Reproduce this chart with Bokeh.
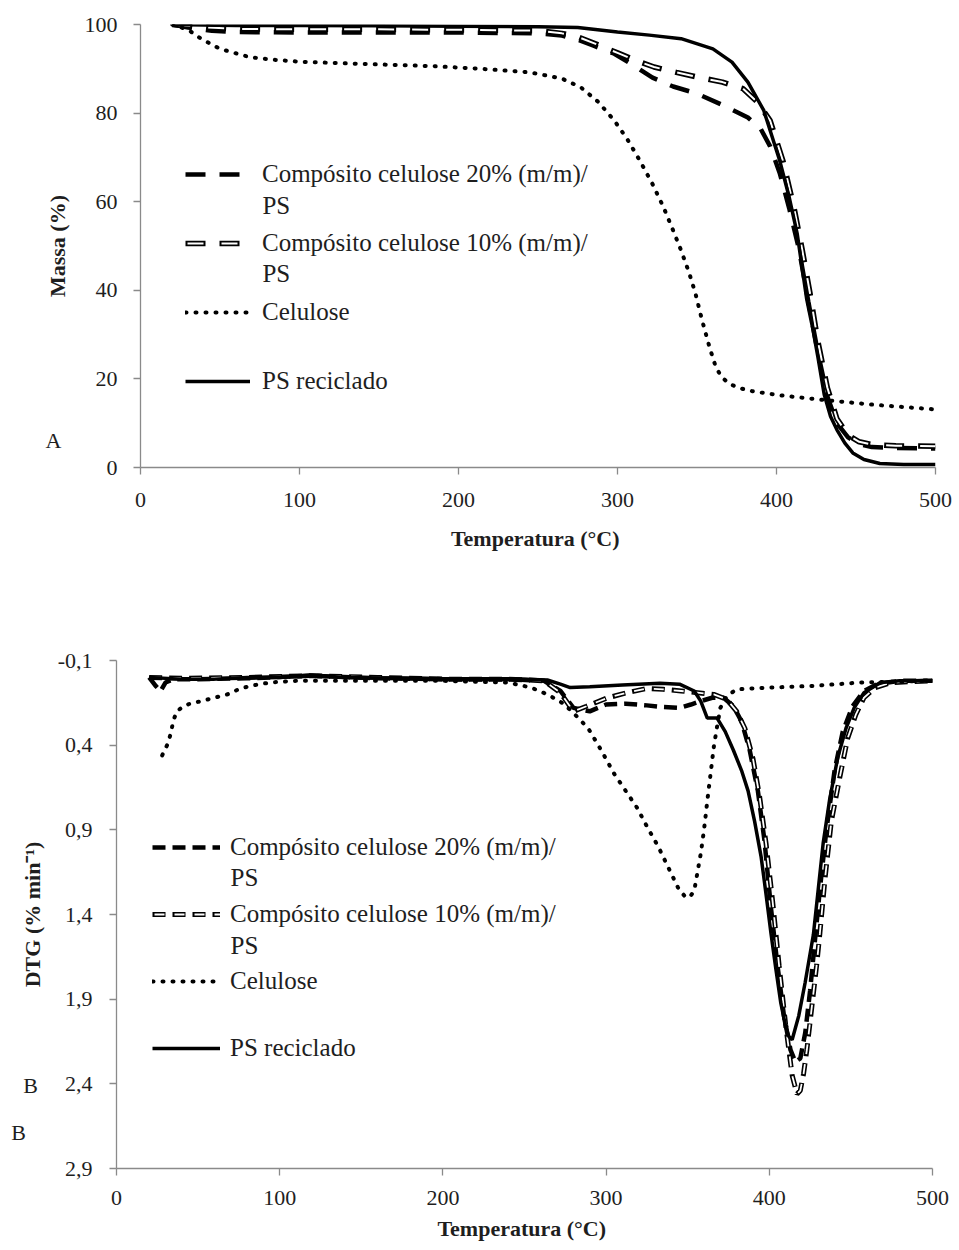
from bokeh.plotting import figure
from bokeh.models import Range1d, FixedTicker, Legend, LegendItem, Label
from bokeh.embed import file_html
from bokeh.resources import INLINE

# ---------------- data ----------------
# TGA (panel A): mass (%) vs temperature (°C)
tga_c20_T = [20, 30, 45, 60, 100, 150, 200, 250, 265, 275, 285, 298, 310, 322, 335, 350, 365, 382, 390, 396, 402, 408, 414, 420, 426, 432, 438, 445, 452, 460, 475, 500]
tga_c20_m = [100, 99.3, 98.6, 98.3, 98.2, 98.2, 98.2, 98.0, 97.5, 96.6, 95.2, 93.4, 90.8, 88.0, 86.0, 84.4, 82.0, 79.0, 76.5, 72.5, 66.5, 58.5, 49.5, 37.5, 26.0, 16.0, 10.0, 6.8, 5.3, 4.6, 4.4, 4.3]

tga_c10_T = [20, 40, 60, 100, 150, 200, 250, 265, 275, 285, 300, 312, 323, 337, 352, 366, 379, 388, 396, 404, 411, 416, 421, 426, 432, 438, 445, 452, 460, 475, 500]
tga_c10_m = [100, 99.4, 99.0, 98.9, 98.9, 98.8, 98.6, 98.0, 97.2, 95.8, 93.6, 91.8, 90.4, 89.2, 88.0, 87.0, 85.5, 82.5, 78.3, 69.3, 58.7, 49.5, 39.5, 28.5, 18.0, 11.0, 7.3, 5.8, 5.2, 4.9, 4.8]

tga_cel_T = [20, 30, 38, 50, 69, 85, 100, 140, 184, 214, 245, 265, 277, 288, 298, 306, 314, 322, 329, 335, 340, 345, 349, 353, 358, 362, 366, 371, 376, 385, 402, 428, 460, 500]
tga_cel_m = [100, 98.8, 96.8, 94.5, 92.6, 92.0, 91.6, 91.1, 90.6, 90.0, 89.2, 87.8, 85.8, 82.5, 78.3, 74.2, 69.3, 64.0, 58.7, 53.5, 49.0, 44.0, 39.3, 33.5, 27.0, 22.5, 20.2, 18.8, 18.0, 17.2, 16.3, 15.3, 14.2, 13.1]

tga_ps_T = [20, 60, 100, 150, 200, 250, 275, 300, 320, 340, 360, 372, 382, 392, 402, 408, 413, 419, 423, 426, 430, 434, 438, 443, 448, 455, 465, 480, 500]
tga_ps_m = [100, 99.8, 99.8, 99.7, 99.6, 99.5, 99.3, 98.3, 97.6, 96.8, 94.5, 91.5, 87.0, 80.6, 69.3, 61.0, 52.8, 38.0, 31.0, 25.0, 16.5, 11.5, 8.5, 5.5, 3.3, 1.8, 0.9, 0.7, 0.7]

# DTG (panel B): % min^-1 vs temperature (°C)
dtg_c20_T = [20, 24, 27, 30, 35, 50, 80, 120, 160, 200, 240, 262, 272, 280, 290, 300, 312, 325, 335, 345, 352, 358, 365, 372, 378, 383, 388, 393, 397, 401, 405, 409, 413, 416, 419, 422, 425, 428, 431, 435, 440, 445, 451, 458, 466, 480, 500]
dtg_c20_v = [0.0, 0.05, 0.08, 0.03, 0.01, 0.01, 0.005, -0.01, 0.005, 0.01, 0.01, 0.02, 0.08, 0.18, 0.2, 0.16, 0.155, 0.165, 0.175, 0.18, 0.16, 0.14, 0.12, 0.12, 0.17, 0.26, 0.43, 0.67, 0.96, 1.36, 1.7, 2.0, 2.2, 2.27, 2.25, 2.1, 1.85, 1.55, 1.25, 0.9, 0.55, 0.32, 0.17, 0.08, 0.04, 0.02, 0.02]

dtg_c10_T = [20, 40, 80, 120, 160, 200, 240, 262, 272, 280, 288, 301, 313, 325, 335, 346, 356, 366, 374, 380, 385, 390, 394, 398, 402, 406, 410, 414, 417, 419, 421, 423, 426, 429, 431, 434, 438, 443.6, 448, 453, 458, 465, 475, 500]
dtg_c10_v = [0.0, 0.005, 0.0, -0.01, 0.0, 0.01, 0.01, 0.02, 0.09, 0.2, 0.17, 0.12, 0.09, 0.065, 0.07, 0.08, 0.09, 0.1, 0.13, 0.2, 0.3, 0.48, 0.7, 0.98, 1.32, 1.7, 2.05, 2.35, 2.46, 2.44, 2.34, 2.2, 1.95, 1.7, 1.51, 1.2, 0.85, 0.57, 0.36, 0.22, 0.12, 0.06, 0.03, 0.02]

dtg_cel_T = [28, 31, 33, 35, 37, 41, 45, 52, 60, 68, 76, 85, 94, 110, 150, 200, 240, 254, 264, 274, 281, 289, 297, 305, 312, 319, 325, 332, 338, 344, 348, 351, 354, 358, 360, 362, 364, 366, 368, 370, 374, 380, 400, 427, 456, 480, 500]
dtg_cel_v = [0.46, 0.4, 0.34, 0.25, 0.2, 0.17, 0.155, 0.14, 0.12, 0.1, 0.065, 0.045, 0.03, 0.02, 0.02, 0.02, 0.03, 0.06, 0.1, 0.155, 0.22, 0.3, 0.43, 0.57, 0.67, 0.77, 0.88, 1.0, 1.12, 1.24, 1.29, 1.3, 1.26, 1.04, 0.9, 0.73, 0.57, 0.41, 0.29, 0.18, 0.11, 0.07, 0.06, 0.05, 0.03, 0.025, 0.02]

dtg_ps_T = [20, 40, 60, 80, 100, 119, 140, 180, 220, 250, 264, 272, 278, 290, 310, 333, 345, 354, 358, 362, 368, 373, 378, 383, 387, 391, 395, 398, 401, 404, 407, 410, 412, 414, 418, 422, 427, 430, 433, 437, 442, 447, 452, 458, 468, 480, 500]
dtg_ps_v = [0.0, 0.01, 0.01, 0.0, 0.0, -0.015, 0.0, 0.005, 0.01, 0.01, 0.015, 0.04, 0.06, 0.055, 0.045, 0.035, 0.04, 0.08, 0.14, 0.24, 0.24, 0.32, 0.43, 0.55, 0.67, 0.85, 1.06, 1.28, 1.51, 1.72, 1.92, 2.06, 2.12, 2.14, 2.0, 1.8, 1.52, 1.25, 0.98, 0.72, 0.47, 0.3, 0.18, 0.09, 0.03, 0.02, 0.02]

x_ticks = [0, 100, 200, 300, 400, 500]
tga_ticks = [0, 20, 40, 60, 80, 100]
dtg_ticks = [-0.1, 0.4, 0.9, 1.4, 1.9, 2.4, 2.9]
dtg_tick_labels = ["-0,1", "0,4", "0,9", "1,4", "1,9", "2,4", "2,9"]

legend_labels = ["Compósito celulose 20% (m/m)/", "Compósito celulose 10% (m/m)/", "Celulose", "PS reciclado"]

# ---------------- styling helpers ----------------
SERIF = "Liberation Serif"
AXIS_GRAY = "#8a8a8a"
TXT = "#1e1e1e"
LEG_SIZE = "25px"


def style(p, yticks, ylabel, yoverrides=None, ylab_standoff=16, xlab_standoff=18,
          xtitle_standoff=16, ytitle_standoff=12):
    p.xgrid.visible = False
    p.ygrid.visible = False
    p.outline_line_color = None
    p.xaxis.ticker = FixedTicker(ticks=x_ticks)
    p.yaxis.ticker = FixedTicker(ticks=yticks)
    if yoverrides:
        p.yaxis.major_label_overrides = yoverrides
    for ax in (p.xaxis[0], p.yaxis[0]):
        ax.axis_line_color = AXIS_GRAY
        ax.axis_line_width = 1.3
        ax.major_tick_line_color = AXIS_GRAY
        ax.major_tick_line_width = 1.3
        ax.major_tick_out = 7
        ax.major_tick_in = 0
        ax.minor_tick_line_color = None
        ax.major_label_text_font = SERIF
        ax.major_label_text_font_size = "22px"
        ax.major_label_text_color = TXT
        ax.axis_label_text_font = SERIF
        ax.axis_label_text_font_style = "bold"
        ax.axis_label_text_font_size = "22px"
        ax.axis_label_text_color = TXT
    p.xaxis.axis_label = "Temperatura  (°C)"
    p.yaxis.axis_label = ylabel
    p.xaxis.major_label_standoff = xlab_standoff
    p.xaxis.axis_label_standoff = xtitle_standoff
    p.yaxis.major_label_standoff = ylab_standoff
    p.yaxis.axis_label_standoff = ytitle_standoff


def make_legend(p, items, loc, spacing, glyph_w, standoff):
    lg = Legend(items=items, location=loc)
    lg.padding = 0
    lg.margin = 0
    lg.spacing = spacing
    lg.label_height = 30
    lg.glyph_height = 30
    lg.glyph_width = glyph_w
    lg.label_standoff = standoff
    lg.border_line_alpha = 0
    lg.background_fill_alpha = 0
    lg.label_text_font = SERIF
    lg.label_text_font_size = LEG_SIZE
    lg.label_text_color = TXT
    p.add_layout(lg)


def text(p, x, y, s, align="left", size=LEG_SIZE, place=None):
    lab = Label(x=x, y=y, text=s, text_font=SERIF, text_font_size=size,
                text_color=TXT, text_align=align, text_baseline="middle")
    if place is None:
        p.add_layout(lab)
    else:
        p.add_layout(lab, place)


# ---------------- panel A (TGA) ----------------
p1 = figure(width=955, height=570, output_backend="svg", toolbar_location=None,
            x_range=Range1d(0, 500), y_range=Range1d(0, 100),
            min_border_left=140, min_border_right=20, min_border_top=24, min_border_bottom=103)
style(p1, tga_ticks, "Massa (%)", ylab_standoff=16, xlab_standoff=18, xtitle_standoff=16, ytitle_standoff=12)

r_c20 = p1.line(tga_c20_T, tga_c20_m, line_color="black", line_width=4.5, line_dash="20 14")
r_c10a = p1.line(tga_c10_T, tga_c10_m, line_color="black", line_width=5.5, line_dash="20 14")
r_c10b = p1.line(tga_c10_T, tga_c10_m, line_color="white", line_width=2, line_dash="16 18", line_dash_offset=32)
r_cel = p1.line(tga_cel_T, tga_cel_m, line_color="black", line_width=4, line_dash="1 9", line_cap="round")
r_ps = p1.line(tga_ps_T, tga_ps_m, line_color="black", line_width=3.5)

make_legend(p1, [LegendItem(label=legend_labels[0], renderers=[r_c20]),
                 LegendItem(label=legend_labels[1], renderers=[r_c10a, r_c10b]),
                 LegendItem(label=legend_labels[2], renderers=[r_cel]),
                 LegendItem(label=legend_labels[3], renderers=[r_ps])],
            loc=(45, 71), spacing=39, glyph_w=65, standoff=12)
text(p1, 76.7, 59.1, "PS")
text(p1, 76.7, 43.8, "PS")
text(p1, -54.7, 6.1, "A", align="center", size="22px", place="left")

# ---------------- panel B (DTG) ----------------
p2 = figure(width=955, height=678, output_backend="svg", toolbar_location=None,
            x_range=Range1d(0, 500), y_range=Range1d(2.9, -0.1),
            min_border_left=116, min_border_right=23, min_border_top=90, min_border_bottom=80)
style(p2, dtg_ticks, "DTG (% min⁻¹)",
      yoverrides={t: s for t, s in zip(dtg_ticks, dtg_tick_labels)},
      ylab_standoff=17, xlab_standoff=15, xtitle_standoff=8, ytitle_standoff=10)

q_c20 = p2.line(dtg_c20_T, dtg_c20_v, line_color="black", line_width=4.5, line_dash="13 7")
q_c10a = p2.line(dtg_c10_T, dtg_c10_v, line_color="black", line_width=5, line_dash="13 7")
q_c10b = p2.line(dtg_c10_T, dtg_c10_v, line_color="white", line_width=1.8, line_dash="10 10", line_dash_offset=18)
q_cel = p2.line(dtg_cel_T, dtg_cel_v, line_color="black", line_width=4, line_dash="1 9", line_cap="round")
q_ps = p2.line(dtg_ps_T, dtg_ps_v, line_color="black", line_width=3.5)

make_legend(p2, [LegendItem(label=legend_labels[0], renderers=[q_c20]),
                 LegendItem(label=legend_labels[1], renderers=[q_c10a, q_c10b]),
                 LegendItem(label=legend_labels[2], renderers=[q_cel]),
                 LegendItem(label=legend_labels[3], renderers=[q_ps])],
            loc=(36, 105), spacing=37, glyph_w=68, standoff=10)
text(p2, 69.9, 1.18, "PS")
text(p2, 69.9, 1.583, "PS")
text(p2, -52.7, 2.41, "B", align="center", size="22px", place="above")
text(p2, -60.0, 2.69, "B", align="center", size="22px", place="above")

open("out.html", "w").write(file_html([p1, p2], INLINE))
